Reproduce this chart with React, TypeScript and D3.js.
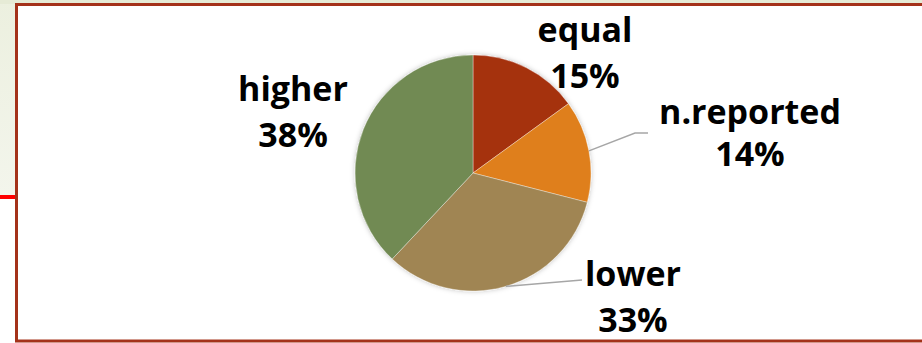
import React from "react";
import * as d3 from "d3";

const categories = ["equal", "n.reported", "lower", "higher"];
const values = [15, 14, 33, 38];
const colors = ["#A5300F", "#DF7F1A", "#A08552", "#718A53"];

// layout of the labels (label centre x, first baseline y), relative to pie centre
const labelLayout = [
  { dx: 112, y1: -131, gap: 46 },
  { dx: 277, y1: -49, gap: 42 },
  { dx: 160, y1: 113, gap: 46 },
  { dx: -180, y1: -72, gap: 46 },
];
// leader line elbows (relative to pie centre), null if no leader
const leaderLayout: ({ elbow: [number, number]; end: [number, number] } | null)[] = [
  null,
  { elbow: [162, -40], end: [175, -40] },
  { elbow: [109, 107], end: [109, 107] },
  null,
];

const W = 922;
const H = 343;
const cx = 473;
const cy = 173;
const R = 118;

export default function App() {
  const pie = d3.pie<number>().sort(null).value((d) => d)(values);
  const arc = d3.arc<d3.PieArcDatum<number>>().innerRadius(0).outerRadius(R);
  const edge = d3.arc<d3.PieArcDatum<number>>().innerRadius(R).outerRadius(R);
  const total = d3.sum(values);
  const fmt = (v: number) => `${Math.round((v / total) * 100)}%`;

  return (
    <svg
      width={W}
      height={H}
      style={{ position: "absolute", left: 0, top: 0 }}
      fontFamily="'Open Sans', sans-serif"
    >
      <defs>
        <linearGradient id="bg" x1="0" y1="0" x2="0" y2="1">
          <stop offset="0" stopColor="#ECF0DF" />
          <stop offset="1" stopColor="#F3F5EC" />
        </linearGradient>
        <filter id="sh" x="-20%" y="-20%" width="140%" height="140%">
          <feDropShadow dx="0" dy="0" stdDeviation="2.5" floodColor="#000" floodOpacity="0.25" />
        </filter>
      </defs>
      <rect x={0} y={0} width={W} height={H} fill="#fff" />
      <rect x={0} y={0} width={18} height={196} fill="url(#bg)" />
      <rect x={0} y={0} width={W} height={4} fill="#E6EBD6" />
      <rect x={0} y={195} width={16} height={4} fill="#FF0000" />
      {/* frame */}
      <rect x={16.5} y={4.5} width={W + 10} height={336.5} fill="#fff" stroke="#A4321A" strokeWidth={3} />

      <g transform={`translate(${cx},${cy})`}>
        <g filter="url(#sh)">
          {pie.map((p, i) => (
            <path key={categories[i]} d={arc(p) as string} fill={colors[i]} stroke="#fff" strokeWidth={0.6} strokeOpacity={0.6} />
          ))}
        </g>
        {pie.map((p, i) => {
          const L = leaderLayout[i];
          if (!L) return null;
          const [sx, sy] = edge.centroid(p);
          return (
            <polyline
              key={"l" + i}
              points={`${sx},${sy} ${L.elbow[0]},${L.elbow[1]} ${L.end[0]},${L.end[1]}`}
              fill="none"
              stroke="#A6A6A6"
              strokeWidth={1.5}
            />
          );
        })}
        {pie.map((p, i) => {
          const L = labelLayout[i];
          return (
            <text key={"t" + i} textAnchor="middle" fontWeight={700} fontSize={34} fill="#000">
              <tspan x={L.dx} y={L.y1}>{categories[i]}</tspan>
              <tspan x={L.dx} y={L.y1 + L.gap}>{fmt(p.value)}</tspan>
            </text>
          );
        })}
      </g>
    </svg>
  );
}
